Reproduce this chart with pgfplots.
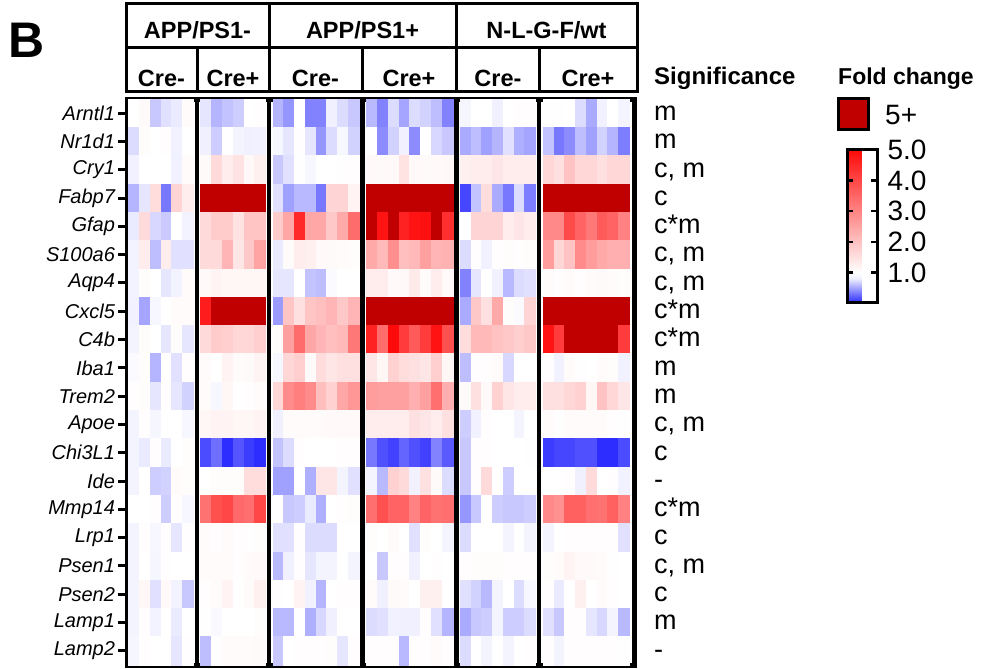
\documentclass[border=0pt]{standalone}
\usepackage{fontspec}
\setmainfont{Liberation Sans}
\usepackage{pgfplots}
\usepackage{pgfplotstable}
\pgfplotsset{compat=1.18}

\pgfdeclareplotmark{cell}{%
  \pgfpathrectangle{\pgfpoint{-5.45pt}{-14.25pt}}{\pgfpoint{10.9pt}{28.5pt}}%
  \pgfusepathqfillstroke}

\pgfplotsset{
  colormap={fcbar}{rgb255(0pt)=(40,40,255) rgb255(80pt)=(240,240,255) rgb255(100pt)=(255,255,255) rgb255(500pt)=(255,10,10)},
  colormap={fc}{rgb255(0pt)=(40,40,255) rgb255(80pt)=(240,240,255) rgb255(100pt)=(255,255,255) rgb255(500pt)=(255,10,10) rgb255(550pt)=(192,0,0) rgb255(600pt)=(192,0,0)},
  cellplot/.style={scatter, only marks, mark=cell, point meta=explicit,
    scatter/use mapped color={draw=mapped color, fill=mapped color},
    every mark/.append style={line width=0.3pt}},
}

% APP/PS1- Cre-
\pgfplotstableread{
c0 c1 c2 c3 c4 c5
1.0 1.08 0.64 0.74 0.78 1.06
0.72 1.05 1.0 1.04 0.82 1.0
0.82 1.0 1.0 1.0 0.82 1.06
0.56 0.76 1.55 0.32 1.7 1.3
0.78 1.6 0.7 0.65 1.0 0.84
0.84 1.3 0.6 1.3 0.74 0.74
0.84 1.05 1.0 0.76 0.84 1.06
0.82 0.5 0.9 1.0 1.06 1.06
0.86 1.05 1.0 0.76 1.05 0.76
0.95 1.05 0.56 1.0 0.74 1.04
1.03 1.05 0.76 1.04 0.76 0.68
0.86 1.04 0.88 1.0 1.0 0.9
0.86 0.78 1.03 0.78 1.0 1.05
0.86 1.0 0.66 0.68 1.06 1.05
1.0 1.0 1.03 0.66 1.04 0.9
0.86 1.04 0.9 1.03 0.76 1.03
0.86 1.0 0.88 1.03 1.0 1.0
0.86 1.15 0.74 1.1 0.84 0.64
0.86 1.04 0.84 1.0 0.78 1.0
0.88 1.03 1.0 1.0 0.76 1.04
}\gA
% APP/PS1- Cre+
\pgfplotstableread{
c0 c1 c2 c3 c4 c5
0.76 0.56 0.62 0.66 1.0 1.03
0.8 0.66 1.0 0.86 0.8 0.82
1.08 1.6 1.3 1.45 1.12 1.25
6 6 6 6 6 6
1.6 1.85 1.85 1.45 1.95 1.95
1.6 1.6 2.2 1.4 1.9 2.5
1.1 1.2 1.15 1.15 1.15 1.15
4.7 6 6 6 6 6
1.6 1.85 1.8 1.65 1.65 1.8
1.06 1.0 1.2 1.06 1.08 1.18
1.06 0.9 1.15 1.0 1.03 1.06
1.15 1.2 1.2 1.15 1.15 1.2
0.14 0.28 0.02 0.18 0.08 0.02
1.0 1.05 1.05 1.05 1.55 1.55
3.3 3.85 4.0 3.45 3.35 4.0
1.06 1.04 1.06 1.04 1.02 1.05
1.06 1.06 1.06 1.04 1.06 1.1
1.03 1.06 1.2 1.0 1.06 1.25
1.02 0.92 1.0 1.0 1.0 1.05
0.6 1.02 1.06 1.06 1.06 1.08
}\gB
% APP/PS1+ Cre-
\pgfplotstableread{
c0 c1 c2 c3 c4 c5 c6 c7
0.56 0.44 1.0 0.36 0.36 0.8 0.72 0.64
0.9 0.76 1.04 0.76 0.44 0.72 0.9 0.68
0.64 0.74 1.02 0.9 1.0 1.0 1.02 1.03
0.74 0.48 0.58 0.58 0.32 1.7 1.7 1.2
1.85 2.45 4.5 2.45 2.45 1.9 2.4 3.4
0.78 1.06 1.3 1.25 1.1 1.08 1.06 1.05
0.76 0.76 1.0 0.62 0.6 0.95 1.0 1.0
0.46 1.95 1.5 1.95 2.05 2.2 1.9 2.2
1.05 2.55 3.4 2.45 2.2 2.05 2.15 3.2
0.9 1.65 1.8 1.08 1.55 1.4 1.5 1.5
1.65 2.9 3.1 2.9 2.05 1.75 2.45 2.7
0.8 1.06 1.06 1.06 1.06 1.1 1.1 1.1
0.62 0.72 1.04 1.0 1.0 1.0 1.03 1.03
0.48 0.48 1.0 0.54 1.4 1.4 0.86 0.74
1.0 0.64 0.66 0.78 0.54 1.0 1.04 1.05
0.74 0.74 1.03 0.72 0.72 0.72 1.0 1.0
0.58 0.8 1.03 0.76 0.86 0.86 1.0 0.86
1.04 1.0 1.2 0.82 0.56 1.0 1.03 1.03
0.58 0.58 1.0 0.54 0.7 0.8 1.0 1.0
0.64 1.0 1.03 1.03 1.03 1.05 0.76 1.03
}\gC
% APP/PS1+ Cre+
\pgfplotstableread{
c0 c1 c2 c3 c4 c5 c6 c7
0.58 0.36 0.72 0.5 0.72 0.68 0.6 0.36
1.0 0.4 0.68 0.82 0.4 1.0 0.7 0.64
1.1 1.08 1.1 1.45 1.1 1.08 1.1 1.12
6 6 6 6 6 6 6 6
6 4.85 6 4.6 4.85 4.9 6 4.4
2.4 2.15 2.85 2.05 2.15 2.55 2.2 2.25
1.3 1.3 1.1 1.12 1.35 1.06 1.3 1.1
6 6 6 6 6 6 6 6
4.6 3.4 5.0 4.2 3.7 4.2 4.85 3.85
1.4 1.15 1.75 1.55 1.5 1.4 1.8 1.15
2.6 2.55 2.55 2.55 2.3 2.55 3.35 2.3
1.3 1.3 1.3 1.3 1.5 1.4 1.3 1.5
0.32 0.16 0.1 0.24 0.16 0.1 0.36 0.2
0.86 0.58 1.75 1.6 0.82 1.5 1.08 0.72
3.35 3.85 3.55 3.55 3.05 3.55 3.3 3.35
1.05 1.0 1.06 1.0 0.74 1.05 1.0 0.86
1.0 0.64 1.04 1.04 0.8 1.0 1.04 1.0
1.06 0.8 1.08 1.06 1.0 1.25 1.25 1.0
0.72 0.74 0.82 0.8 0.8 1.03 0.74 0.56
1.04 1.03 1.03 0.58 1.04 1.04 1.06 1.03
}\gD
% N-L-G-F/wt Cre-
\pgfplotstableread{
c0 c1 c2 c3 c4 c5 c6
0.88 1.0 1.0 0.8 1.0 1.04 1.03
0.52 0.6 0.48 0.56 0.74 0.54 0.5
1.25 1.3 1.3 1.4 1.3 1.3 1.3
0.12 0.62 1.55 0.52 0.32 0.72 0.34
1.0 1.7 1.7 1.7 1.3 1.4 1.3
0.72 1.04 0.82 1.03 1.05 1.04 1.05
0.36 0.76 1.0 0.82 0.58 0.72 0.74
0.52 1.9 1.5 2.4 1.05 0.95 1.7
1.55 2.15 2.15 2.0 1.9 1.8 1.9
0.6 1.04 1.03 1.06 0.7 1.0 1.0
1.08 1.5 1.1 1.75 1.4 1.3 1.3
0.66 0.82 1.03 1.0 1.0 0.86 1.0
0.64 1.03 1.04 1.0 1.0 1.0 1.02
0.64 1.03 1.6 1.0 0.66 1.0 1.0
0.44 0.64 1.0 0.66 0.64 0.64 0.66
0.72 1.0 1.0 1.0 0.86 1.0 0.86
1.03 1.05 1.05 1.05 1.04 1.04 1.04
0.74 0.68 0.58 0.86 1.0 0.72 0.9
0.52 0.64 0.66 0.86 0.66 0.66 0.72
0.72 1.0 0.86 1.0 0.86 1.0 1.03
}\gE
% N-L-G-F/wt Cre+
\pgfplotstableread{
c0 c1 c2 c3 c4 c5 c6 c7
1.02 1.02 1.0 0.72 0.52 0.82 1.0 0.86
0.62 0.32 0.4 0.6 0.48 0.68 0.56 0.34
1.65 1.5 1.98 1.65 1.65 1.5 1.65 1.65
6 6 6 6 6 6 6 6
2.95 2.95 3.95 3.55 3.2 3.7 3.55 3.05
2.6 1.65 1.98 2.9 2.6 2.4 2.3 2.3
1.06 1.04 1.06 1.04 1.06 1.08 1.06 1.05
6 6 6 6 6 6 6 6
4.85 4.2 6 6 6 6 6 4.2
1.04 0.82 1.06 1.02 1.0 1.06 1.05 0.82
1.5 1.5 1.65 1.75 1.15 1.98 1.65 1.4
1.06 1.02 1.06 1.06 1.06 1.06 1.04 1.02
0.08 0.12 0.12 0.16 0.16 0.02 0.02 0.14
1.0 1.0 1.04 0.8 1.6 1.0 1.04 0.82
2.95 2.8 3.6 3.6 3.35 3.3 3.6 3.05
0.86 1.0 1.04 1.03 1.03 1.04 1.03 0.74
1.05 1.06 1.2 1.1 1.08 1.06 1.02 1.0
1.04 0.78 1.0 1.25 1.0 1.06 1.03 1.0
0.74 0.64 1.03 1.03 0.76 0.7 0.86 0.58
1.03 0.86 1.03 1.03 1.03 1.04 1.03 1.02
}\gF

\begin{document}
\begin{tikzpicture}[x=1pt,y=1pt]
\useasboundingbox (0,0) rectangle (989,669);

\begin{axis}[
  at={(127.5pt,4pt)}, anchor=south west,
  scale only axis, width=507pt, height=566pt,
  xmin=-0.1, xmax=47, ymin=0, ymax=20, y dir=reverse,
  xtick=\empty,
  ytick={0.5,1.5,...,19.5},
  yticklabels={Arntl1,Nr1d1,Cry1,Fabp7,Gfap,S100a6,Aqp4,Cxcl5,C4b,Iba1,Trem2,Apoe,Chi3L1,Ide,Mmp14,Lrp1,Psen1,Psen2,Lamp1,Lamp2},
  yticklabel style={font=\fontsize{20}{20}\selectfont\itshape},
  ytick pos=left, tick align=outside, major tick length=9pt,
  ytick style={line width=3pt, black},
  axis line style={line width=5pt, black},
  axis on top,
  colormap name=fc, point meta min=0, point meta max=6,
]
\pgfplotsinvokeforeach{0,...,5}{
  \addplot[cellplot] table[x expr={#1+0.5}, y expr={\coordindex+0.5}, meta=c#1] {\gA};
}
\pgfplotsinvokeforeach{0,...,5}{
  \addplot[cellplot] table[x expr={6.7+#1+0.5}, y expr={\coordindex+0.5}, meta=c#1] {\gB};
}
\pgfplotsinvokeforeach{0,...,7}{
  \addplot[cellplot] table[x expr={13.4+#1+0.5}, y expr={\coordindex+0.5}, meta=c#1] {\gC};
}
\pgfplotsinvokeforeach{0,...,7}{
  \addplot[cellplot] table[x expr={22.1+#1+0.5}, y expr={\coordindex+0.5}, meta=c#1] {\gD};
}
\pgfplotsinvokeforeach{0,...,6}{
  \addplot[cellplot] table[x expr={30.8+#1+0.5}, y expr={\coordindex+0.5}, meta=c#1] {\gE};
}
\pgfplotsinvokeforeach{0,...,7}{
  \addplot[cellplot] table[x expr={38.5+#1+0.5}, y expr={\coordindex+0.5}, meta=c#1] {\gF};
}
\draw[black, line width=4.5pt] (axis cs:6.35,0) -- (axis cs:6.35,20);
\draw[black, line width=4.5pt] (axis cs:13.05,0) -- (axis cs:13.05,20);
\draw[black, line width=4.5pt] (axis cs:21.75,0) -- (axis cs:21.75,20);
\draw[black, line width=4.5pt] (axis cs:30.45,0) -- (axis cs:30.45,20);
\draw[black, line width=4.5pt] (axis cs:38.15,0) -- (axis cs:38.15,20);
\end{axis}

% colour bar
\begin{axis}[
  at={(838.5pt,366pt)}, anchor=south west,
  scale only axis, width=30pt, height=153pt,
  xmin=0, xmax=1, ymin=0, ymax=1,
  axis line style={draw=none}, xtick=\empty, ytick=\empty,
  colormap name=fcbar, point meta min=0, point meta max=5,
  colorbar,
  colorbar style={
    at={(parent axis.south west)}, anchor=south west,
    scale only axis, width=30pt, height=153pt,
    ytick={1,2,3,4,5}, yticklabels={1.0,2.0,3.0,4.0,5.0},
    ytick pos=both, yticklabel pos=right,
    tick align=inside, major tick length=6pt,
    ytick style={line width=2.5pt, black},
    axis line style={draw=black, line width=3pt},
    yticklabel style={font=\fontsize{28}{28}\selectfont, xshift=7pt},
  },
]
\end{axis}

% header boxes
\draw[line width=3pt] (126,577) rectangle (637,665);
\draw[line width=3pt] (126,621) -- (637,621);
\draw[line width=3pt] (269,577) -- (269,665);
\draw[line width=3pt] (456,577) -- (456,665);
\draw[line width=3pt] (197,577) -- (197,621);
\draw[line width=3pt] (362.5,577) -- (362.5,621);
\draw[line width=3pt] (539.5,577) -- (539.5,621);
\begin{scope}[every node/.style={font=\fontsize{23.5}{24}\selectfont\bfseries, inner sep=0}]
\node at (197.5,639) {APP/PS1-};
\node at (362.5,639) {APP/PS1+};
\node at (546.5,639) {N-L-G-F/wt};
\node at (161.5,591) {Cre-};
\node at (233,591) {Cre+};
\node at (315.5,591) {Cre-};
\node at (409,591) {Cre+};
\node at (498,591) {Cre-};
\node at (588,591) {Cre+};
\end{scope}

\node[font=\fontsize{50}{50}\selectfont\bfseries, inner sep=0] at (27,629) {B};

\node[font=\fontsize{24}{24}\selectfont\bfseries, anchor=base west, inner sep=0] at (654,584) {Significance};
\node[font=\fontsize{23}{23}\selectfont\bfseries, anchor=base west, inner sep=0] at (838,584) {Fold change};

\foreach \t [count=\i from 0] in {m,m,{c, m},c,c*m,{c, m},{c, m},c*m,c*m,m,m,{c, m},c,-,c*m,c,{c, m},c,m,-}{
  \node[font=\fontsize{27}{27}\selectfont, anchor=base west, inner sep=0] at (654,{548.5-28.3*\i}) {\t};
}

\draw[line width=3pt, fill={rgb,255:red,192;green,0;blue,0}] (838.5,539) rectangle (868.5,570);
\node[font=\fontsize{28}{28}\selectfont, anchor=base west, inner sep=0] at (885,544.5) {5+};
\end{tikzpicture}
\end{document}
